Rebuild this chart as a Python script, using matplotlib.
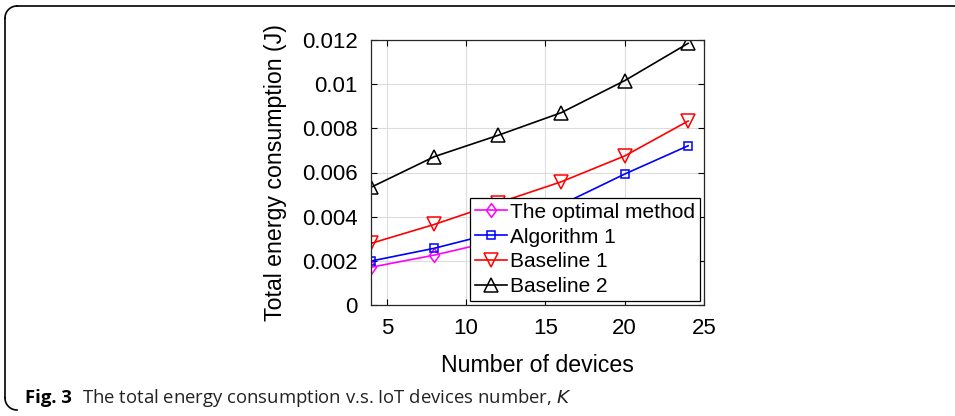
import matplotlib
matplotlib.use("Agg")
import matplotlib.pyplot as plt
from matplotlib.path import Path
import numpy as np

# ---- data ----
devices = [4, 8, 12, 16, 20, 24]
optimal_x = [4, 8, 12]
optimal = [0.00171, 0.00226, 0.00293]
algorithm1 = [0.00199, 0.00257, 0.00330, 0.00454, 0.00593, 0.00721]
baseline1 = [0.00279, 0.00365, 0.00462, 0.00558, 0.00675, 0.00833]
baseline2 = [0.00533, 0.00672, 0.00768, 0.00871, 0.01016, 0.01185]
xticks = [5, 10, 15, 20, 25]
yticks = [0, 0.002, 0.004, 0.006, 0.008, 0.01, 0.012]
ytick_labels = ["0", "0.002", "0.004", "0.006", "0.008", "0.01", "0.012"]

W, H = 955, 416
fig = plt.figure(figsize=(W / 100, H / 100), dpi=100)
fig.patch.set_facecolor("white")

ax = fig.add_axes([371 / W, 1 - 305 / H, (704 - 371) / W, (305 - 40) / H])

diamond = Path([(0, 1), (0.72, 0), (0, -1), (-0.72, 0), (0, 1)],
               [Path.MOVETO, Path.LINETO, Path.LINETO, Path.LINETO, Path.CLOSEPOLY])

lw = 1.2
ax.plot(optimal_x, optimal, color=(1, 0, 1), lw=lw, marker=diamond, ms=10,
        mfc="none", mew=1.1, label="The optimal method")
ax.plot(devices, algorithm1, color=(0, 0, 1), lw=lw, marker="s", ms=6,
        mfc="none", mew=1.1, label="Algorithm 1")
ax.plot(devices, baseline1, color=(1, 0, 0), lw=lw, marker="v", ms=9.5,
        mfc="none", mew=1.1, label="Baseline 1")
ax.plot(devices, baseline2, color="black", lw=lw, marker="^", ms=9.5,
        mfc="none", mew=1.1, label="Baseline 2")

ax.set_xlim(4, 25)
ax.set_ylim(0, 0.012)
ax.set_xticks(xticks)
ax.set_yticks(yticks)
ax.set_yticklabels(ytick_labels)
ax.grid(True, color="#dcdcdc", lw=0.8)
ax.set_axisbelow(True)

font = "Liberation Sans"
for lab in ax.get_xticklabels() + ax.get_yticklabels():
    lab.set_fontfamily(font)
    lab.set_fontsize(16)
ax.tick_params(direction="in", length=4, width=0.8, top=True, right=True,
               pad=9.5, colors="black")
for s in ax.spines.values():
    s.set_linewidth(0.9)
    s.set_color("#262626")

ax.set_xlabel("Number of devices", fontfamily=font, fontsize=16.7, labelpad=11)
ax.set_ylabel("Total energy consumption (J)", fontfamily=font, fontsize=16.7, labelpad=11)

leg = ax.legend(loc="lower right", prop={"family": font, "size": 15},
                frameon=True, fancybox=False, edgecolor="black",
                framealpha=1, borderpad=0.22, labelspacing=0.28,
                handlelength=1.55, handletextpad=0.15, borderaxespad=0.2)
leg.get_frame().set_linewidth(0.9)

# frame of the figure (top + left with rounded corners)
r = 12
fig.add_artist(plt.Line2D([(W + 5) / W, (5 + r) / W], [1 - 6 / H, 1 - 6 / H],
                          transform=fig.transFigure, color="black", lw=1.2))
th = np.linspace(np.pi / 2, np.pi, 20)
fig.add_artist(plt.Line2D((5 + r + r * np.cos(th)) / W, (H - 6 - r + r * np.sin(th)) / H,
                          transform=fig.transFigure, color="black", lw=1.2))
fig.add_artist(plt.Line2D([5 / W, 5 / W], [(H - 6 - r) / H, (H - 410 + r) / H],
                          transform=fig.transFigure, color="black", lw=1.2))
th2 = np.linspace(np.pi, 1.5 * np.pi, 20)
fig.add_artist(plt.Line2D((5 + r + r * np.cos(th2)) / W, (H - 410 + r + r * np.sin(th2)) / H,
                          transform=fig.transFigure, color="black", lw=1.2))

# caption
cap_font = "Open Sans"
t1 = fig.text(25 / W, 1 - 403 / H, "Fig. 3", fontfamily=cap_font, fontweight="bold",
              fontsize=13.3, va="baseline", ha="left")
fig.canvas.draw()
bb = t1.get_window_extent()
fig.text((bb.x1 + 10) / W, 1 - 403 / H,
         "The total energy consumption v.s. IoT devices number, $\\mathit{K}$",
         fontfamily=cap_font, fontsize=13.3, va="baseline", ha="left", color="#222222")

fig.savefig("out.png", dpi=100)
